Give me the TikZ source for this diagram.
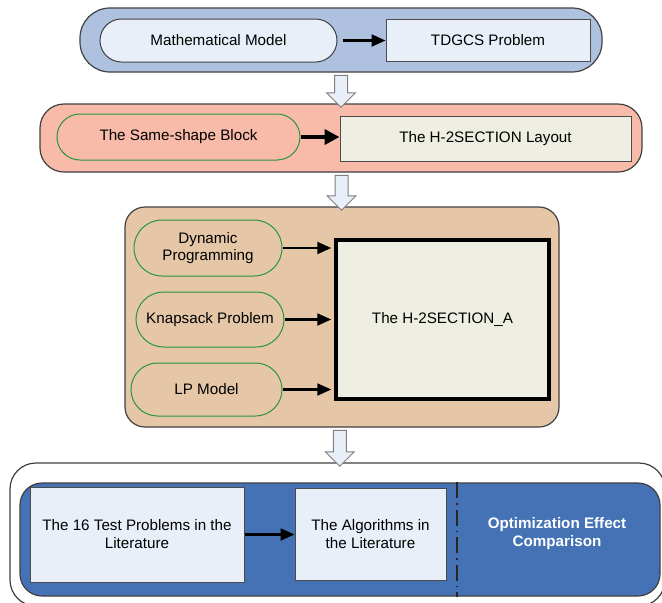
\documentclass[tikz,border=0pt]{standalone}
\usepackage{fontspec}
\setmainfont{Liberation Sans}
\usetikzlibrary{arrows.meta,shapes.misc,shapes.arrows,calc}

\definecolor{frameblue}{RGB}{174,194,224}
\definecolor{paleblue}{RGB}{233,239,248}
\definecolor{salmon}{RGB}{248,187,170}
\definecolor{pillgreen}{RGB}{40,150,60}
\definecolor{beige}{RGB}{238,238,226}
\definecolor{tan}{RGB}{229,199,168}
\definecolor{deepblue}{RGB}{68,114,181}

\begin{document}
\begin{tikzpicture}[x=1pt,y=-1pt,
    every node/.style={font=\fontsize{15.2}{18}\selectfont, align=center, inner sep=0pt},
    frame/.style={draw=black!75, line width=1.2pt, rounded corners=#1},
    pill/.style={rounded rectangle, draw=#1, line width=1pt},
    box/.style={rectangle, draw=black!70, line width=1pt},
    link/.style={line width=2.2pt, -{Triangle[length=14pt,width=12pt]}},
    downarrow/.style={single arrow, draw=black!50, fill=paleblue, line width=1pt,
        rotate=-90, inner ysep=6pt, single arrow head extend=8pt}]

    \useasboundingbox (0,0) rectangle (662,603);

    % step 1: model
    \node[frame=30pt, fill=frameblue, minimum width=522, minimum height=64] (frameA) at (341,40) {};
    \node[pill=black!75, fill=paleblue, minimum width=237, minimum height=43] (mm) at (218.5,40.5) {Mathematical Model};
    \node[box, fill=paleblue, minimum width=204, minimum height=42] (tdgcs) at (488,40) {TDGCS Problem};
    \draw[link, shorten <=5pt] (mm.east) -- (mm.east -| tdgcs.west);

    % step 2: layout
    \node[frame=24pt, fill=salmon, minimum width=602, minimum height=68] (frameB) at (341,138) {};
    \node[pill=pillgreen, fill=salmon, minimum width=243, minimum height=46] (same) at (178.5,137) {The Same-shape Block};
    \node[box, fill=beige, minimum width=291, minimum height=45] (layout) at (485.5,138.5) {The H-2SECTION Layout};
    \draw[line width=4pt, -{Triangle[length=15pt,width=15pt]}] (same.east) -- (same.east -| layout.west);

    % step 3: algorithm
    \node[frame=20pt, fill=tan, minimum width=434, minimum height=220] (frameC) at (342,317) {};
    \node[pill=pillgreen, fill=tan, minimum width=148, minimum height=56] (dp) at (208,248) {Dynamic\\[-1pt]Programming};
    \node[pill=pillgreen, fill=tan, minimum width=148, minimum height=55] (ks) at (210,319.5) {Knapsack Problem};
    \node[pill=pillgreen, fill=tan, minimum width=151, minimum height=53] (lp) at (206.5,389.5) {LP Model};
    \node[rectangle, draw=black, line width=3.5pt, fill=beige, minimum width=213, minimum height=159] (h2a) at (442.5,319.5) {The H-2SECTION\_A};
    \draw[link, shorten >=3pt] (dp.east) -- (dp.east -| h2a.west);
    \draw[link, shorten >=3pt] (ks.east) -- (ks.east -| h2a.west);
    \draw[link, shorten >=3pt] (lp.east) -- (lp.east -| h2a.west);

    % step 4: comparison
    \node[frame=26pt, fill=white, minimum width=655, minimum height=143] (frameD) at (337.5,534.5) {};
    \node[frame=22pt, fill=deepblue, minimum width=640, minimum height=113] (frameE) at (340,539.5) {};
    \node[box, fill=paleblue, minimum width=214, minimum height=95] (tp) at (137,534.5) {The 16 Test Problems in the\\Literature};
    \node[box, fill=paleblue, minimum width=151, minimum height=92] (alg) at (370.5,534) {The Algorithms in\\the Literature};
    \draw[link] (tp.east) -- (tp.east -| alg.west);
    \coordinate (sep) at (457,0);
    \draw[line width=1.2pt, black!85, dash pattern=on 16pt off 5pt on 1.5pt off 5pt] (frameE.north -| sep) -- (frameE.south -| sep);
    \node[text=white, font=\fontsize{15.2}{18}\selectfont\bfseries] (cmp) at (557,534) {Optimization Effect\\Comparison};

    % block arrows between steps
    \node[downarrow, minimum height=32] (down1) at ($(frameA.south)!.5!(frameB.north)$) {};
    \node[downarrow, minimum height=35] (down2) at ($(frameB.south)!.5!(frameC.north)$) {};
    \node[downarrow, minimum height=36] (down3) at ($(frameC.south)!.5!(frameD.north)$) {};
\end{tikzpicture}
\end{document}
